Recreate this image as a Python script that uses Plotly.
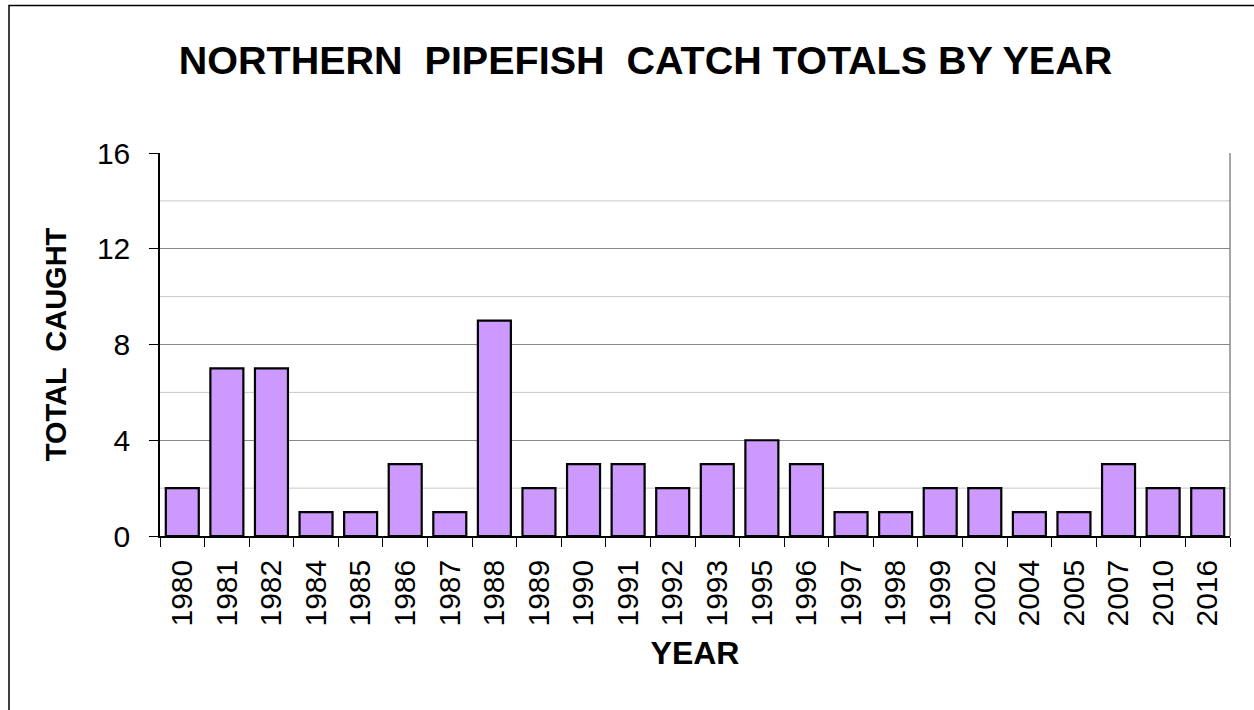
import plotly.graph_objects as go

years = ["1980", "1981", "1982", "1984", "1985", "1986", "1987", "1988", "1989", "1990",
         "1991", "1992", "1993", "1995", "1996", "1997", "1998", "1999", "2002", "2004",
         "2005", "2007", "2010", "2016"]
caught = [2, 7, 7, 1, 1, 3, 1, 9, 2, 3, 3, 2, 3, 4, 3, 1, 1, 2, 2, 1, 1, 3, 2, 2]
y_ticks = [0, 4, 8, 12, 16]
minor_grid = [2, 6, 10, 14]

W, H = 1254, 710
L, R, T, B = 160, 24, 153, 174
pw, ph = W - L - R, H - T - B

fig = go.Figure()
fig.add_trace(go.Bar(
    x=years, y=caught,
    marker=dict(color="#CC99FF", line=dict(color="black", width=2.2)),
))

for v in minor_grid:
    fig.add_shape(type="line", xref="paper", yref="y", x0=0, x1=1, y0=v, y1=v,
                  line=dict(color="#c8c8c8", width=1), layer="below")

# outer border
fig.add_shape(type="rect", xref="paper", yref="paper",
              x0=(9 - L) / pw, x1=(W + 5 - L) / pw,
              y0=(H - B - (H + 5)) / ph, y1=(H - B - 5.5) / ph,
              line=dict(color="black", width=1.5), fillcolor="rgba(0,0,0,0)", layer="below")
# right plot border
fig.add_shape(type="line", xref="paper", yref="paper", x0=1, x1=1, y0=0, y1=1,
              line=dict(color="#888888", width=1.5))

fig.update_layout(
    width=W, height=H,
    margin=dict(l=L, r=R, t=T, b=B),
    paper_bgcolor="white", plot_bgcolor="white",
    font=dict(family="Liberation Sans, Arial, sans-serif", color="black"),
    showlegend=False,
    bargap=0.26,
    title=dict(text="<b>NORTHERN  PIPEFISH  CATCH TOTALS BY YEAR</b>",
               x=645.5 / W, xanchor="center", y=1 - 60 / H, yanchor="middle",
               font=dict(size=39.5, color="black")),
    xaxis=dict(
        title=dict(text="<b>YEAR</b>", font=dict(size=32), standoff=16),
        tickangle=-90, tickfont=dict(size=30), ticklabelstandoff=10,
        showline=True, linecolor="black", linewidth=1.5,
        ticks="outside", tickson="boundaries", ticklen=9, tickcolor="black", tickwidth=1,
        showgrid=False,
    ),
    yaxis=dict(
        title=dict(text="<b>TOTAL  CAUGHT</b>", font=dict(size=29), standoff=22),
        range=[0, 16], tickvals=y_ticks, tickfont=dict(size=30), ticklabelstandoff=13,
        showline=True, linecolor="black", linewidth=1.5,
        ticks="outside", ticklen=9, tickcolor="black",
        showgrid=True, gridcolor="#888888", gridwidth=1,
        zeroline=False,
    ),
)

fig.write_html("out.html", config={"displayModeBar": False},
               post_script="document.body.style.margin='0';")
